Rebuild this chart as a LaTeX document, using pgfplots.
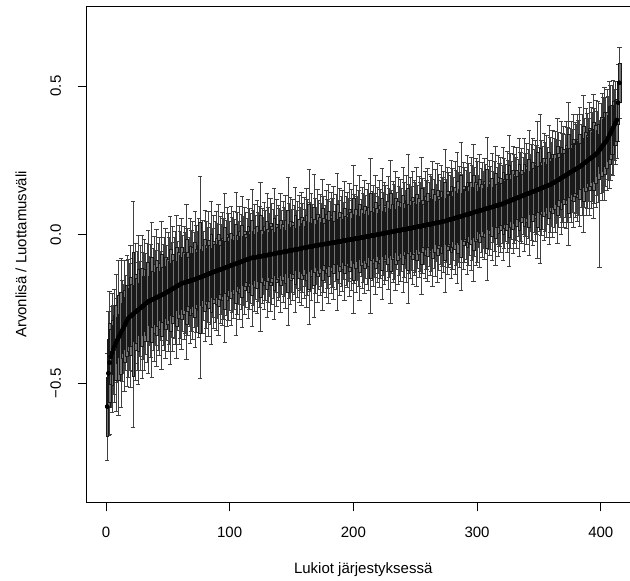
\documentclass[border=0pt]{standalone}
\usepackage{pgfplots}
\pgfplotsset{compat=1.18}
\usepackage{pgfplotstable}
\usepackage{fontspec}
\setmainfont{Liberation Sans}
\newcommand\fs{\fontsize{15bp}{18bp}\selectfont}
\pgfplotstableread[row sep=\\]{
y e\\
-0.578 0.18\\ -0.466 0.21\\ -0.430 0.24\\ -0.410 0.17\\ -0.397 0.20\\ -0.386 0.15\\ -0.375 0.19\\ -0.364 0.23\\ -0.355 0.14\\ -0.347 0.26\\
-0.339 0.13\\ -0.330 0.25\\ -0.322 0.17\\ -0.315 0.15\\ -0.306 0.22\\ -0.297 0.16\\ -0.289 0.22\\ -0.281 0.20\\ -0.277 0.18\\ -0.274 0.24\\
-0.270 0.19\\ -0.267 0.38\\ -0.263 0.17\\ -0.260 0.23\\ -0.256 0.20\\ -0.253 0.25\\ -0.250 0.16\\ -0.246 0.21\\ -0.243 0.24\\ -0.239 0.18\\
-0.236 0.22\\ -0.232 0.17\\ -0.229 0.20\\ -0.225 0.24\\ -0.223 0.15\\ -0.221 0.19\\ -0.219 0.26\\ -0.217 0.17\\ -0.215 0.21\\ -0.213 0.16\\
-0.211 0.23\\ -0.209 0.18\\ -0.207 0.20\\ -0.205 0.15\\ -0.203 0.25\\ -0.201 0.17\\ -0.199 0.19\\ -0.197 0.22\\ -0.194 0.16\\ -0.192 0.20\\
-0.189 0.18\\ -0.187 0.25\\ -0.184 0.16\\ -0.182 0.21\\ -0.179 0.17\\ -0.177 0.19\\ -0.174 0.24\\ -0.172 0.15\\ -0.169 0.20\\ -0.167 0.18\\
-0.164 0.22\\ -0.163 0.16\\ -0.162 0.19\\ -0.160 0.17\\ -0.159 0.26\\ -0.158 0.18\\ -0.157 0.15\\ -0.155 0.21\\ -0.154 0.17\\ -0.153 0.20\\
-0.151 0.16\\ -0.150 0.23\\ -0.148 0.18\\ -0.147 0.16\\ -0.145 0.20\\ -0.143 0.34\\ -0.142 0.17\\ -0.140 0.19\\ -0.139 0.15\\ -0.137 0.22\\
-0.135 0.18\\ -0.134 0.16\\ -0.132 0.21\\ -0.130 0.17\\ -0.129 0.24\\ -0.127 0.15\\ -0.126 0.19\\ -0.124 0.17\\ -0.122 0.20\\ -0.121 0.16\\
-0.119 0.22\\ -0.118 0.18\\ -0.116 0.15\\ -0.115 0.19\\ -0.113 0.17\\ -0.112 0.25\\ -0.110 0.16\\ -0.109 0.20\\ -0.107 0.18\\ -0.105 0.15\\
-0.104 0.20\\ -0.102 0.16\\ -0.101 0.18\\ -0.099 0.15\\ -0.098 0.24\\ -0.096 0.17\\ -0.095 0.14\\ -0.093 0.19\\ -0.092 0.16\\ -0.090 0.22\\
-0.088 0.15\\ -0.087 0.18\\ -0.085 0.16\\ -0.084 0.14\\ -0.082 0.20\\ -0.081 0.17\\ -0.079 0.15\\ -0.078 0.23\\ -0.077 0.16\\ -0.077 0.18\\
-0.076 0.14\\ -0.075 0.19\\ -0.074 0.15\\ -0.073 0.17\\ -0.073 0.25\\ -0.072 0.16\\ -0.071 0.13\\ -0.070 0.18\\ -0.069 0.15\\ -0.069 0.21\\
-0.068 0.16\\ -0.067 0.14\\ -0.066 0.19\\ -0.065 0.17\\ -0.065 0.15\\ -0.064 0.22\\ -0.063 0.13\\ -0.062 0.18\\ -0.061 0.16\\ -0.061 0.15\\
-0.060 0.20\\ -0.059 0.14\\ -0.058 0.17\\ -0.057 0.15\\ -0.057 0.19\\ -0.056 0.13\\ -0.055 0.25\\ -0.054 0.16\\ -0.053 0.18\\ -0.053 0.14\\
-0.052 0.17\\ -0.051 0.15\\ -0.050 0.21\\ -0.049 0.13\\ -0.049 0.16\\ -0.048 0.18\\ -0.047 0.14\\ -0.046 0.19\\ -0.045 0.15\\ -0.044 0.17\\
-0.044 0.13\\ -0.043 0.20\\ -0.042 0.16\\ -0.041 0.26\\ -0.040 0.15\\ -0.039 0.18\\ -0.039 0.14\\ -0.038 0.24\\ -0.037 0.16\\ -0.036 0.13\\
-0.036 0.19\\ -0.035 0.15\\ -0.034 0.17\\ -0.034 0.14\\ -0.033 0.22\\ -0.032 0.16\\ -0.031 0.13\\ -0.031 0.18\\ -0.030 0.15\\ -0.029 0.20\\
-0.028 0.14\\ -0.028 0.17\\ -0.027 0.15\\ -0.026 0.19\\ -0.026 0.13\\ -0.025 0.16\\ -0.024 0.23\\ -0.023 0.14\\ -0.023 0.18\\ -0.022 0.15\\
-0.021 0.17\\ -0.020 0.13\\ -0.020 0.20\\ -0.019 0.15\\ -0.018 0.16\\ -0.017 0.14\\ -0.017 0.19\\ -0.016 0.17\\ -0.015 0.13\\ -0.015 0.25\\
-0.014 0.15\\ -0.013 0.18\\ -0.012 0.14\\ -0.012 0.16\\ -0.011 0.21\\ -0.010 0.13\\ -0.009 0.17\\ -0.009 0.15\\ -0.008 0.19\\ -0.007 0.14\\
-0.006 0.16\\ -0.006 0.18\\ -0.005 0.13\\ -0.004 0.26\\ -0.003 0.15\\ -0.002 0.17\\ -0.002 0.14\\ -0.001 0.20\\ 0.000 0.16\\ 0.001 0.13\\
0.002 0.18\\ 0.002 0.15\\ 0.003 0.22\\ 0.004 0.14\\ 0.005 0.17\\ 0.006 0.16\\ 0.006 0.13\\ 0.007 0.19\\ 0.008 0.15\\ 0.009 0.24\\
0.010 0.14\\ 0.010 0.17\\ 0.011 0.16\\ 0.012 0.20\\ 0.013 0.13\\ 0.014 0.18\\ 0.014 0.15\\ 0.015 0.17\\ 0.016 0.14\\ 0.017 0.21\\
0.018 0.16\\ 0.018 0.13\\ 0.019 0.18\\ 0.020 0.25\\ 0.021 0.15\\ 0.022 0.17\\ 0.022 0.14\\ 0.023 0.19\\ 0.024 0.16\\ 0.025 0.15\\
0.026 0.20\\ 0.027 0.14\\ 0.028 0.17\\ 0.028 0.15\\ 0.029 0.23\\ 0.030 0.16\\ 0.031 0.13\\ 0.032 0.18\\ 0.033 0.15\\ 0.034 0.19\\
0.035 0.14\\ 0.035 0.17\\ 0.036 0.16\\ 0.037 0.21\\ 0.038 0.15\\ 0.039 0.18\\ 0.040 0.13\\ 0.041 0.20\\ 0.042 0.16\\ 0.042 0.14\\
0.043 0.19\\ 0.044 0.15\\ 0.045 0.17\\ 0.046 0.24\\ 0.047 0.14\\ 0.048 0.18\\ 0.050 0.16\\ 0.051 0.15\\ 0.052 0.20\\ 0.053 0.17\\
0.054 0.14\\ 0.056 0.19\\ 0.057 0.16\\ 0.058 0.22\\ 0.059 0.15\\ 0.061 0.17\\ 0.062 0.25\\ 0.063 0.14\\ 0.064 0.18\\ 0.066 0.16\\
0.067 0.15\\ 0.068 0.20\\ 0.069 0.17\\ 0.071 0.14\\ 0.072 0.19\\ 0.073 0.16\\ 0.074 0.23\\ 0.076 0.15\\ 0.077 0.18\\ 0.078 0.17\\
0.079 0.12\\ 0.081 0.19\\ 0.082 0.14\\ 0.083 0.16\\ 0.084 0.13\\ 0.086 0.17\\ 0.087 0.15\\ 0.088 0.24\\ 0.089 0.13\\ 0.091 0.16\\
0.092 0.14\\ 0.093 0.18\\ 0.094 0.12\\ 0.096 0.15\\ 0.097 0.20\\ 0.098 0.13\\ 0.099 0.17\\ 0.101 0.14\\ 0.102 0.16\\ 0.103 0.13\\
0.105 0.19\\ 0.106 0.15\\ 0.108 0.13\\ 0.110 0.17\\ 0.111 0.14\\ 0.113 0.22\\ 0.115 0.16\\ 0.116 0.13\\ 0.118 0.18\\ 0.120 0.15\\
0.121 0.14\\ 0.123 0.17\\ 0.125 0.13\\ 0.126 0.20\\ 0.128 0.15\\ 0.130 0.16\\ 0.131 0.13\\ 0.133 0.19\\ 0.135 0.14\\ 0.137 0.17\\
0.138 0.15\\ 0.140 0.21\\ 0.142 0.13\\ 0.143 0.16\\ 0.145 0.18\\ 0.147 0.14\\ 0.148 0.17\\ 0.150 0.15\\ 0.152 0.23\\ 0.153 0.14\\
0.155 0.25\\ 0.157 0.16\\ 0.158 0.14\\ 0.160 0.18\\ 0.162 0.15\\ 0.163 0.17\\ 0.165 0.13\\ 0.167 0.20\\ 0.168 0.16\\ 0.170 0.14\\
0.173 0.18\\ 0.175 0.15\\ 0.178 0.17\\ 0.180 0.14\\ 0.183 0.21\\ 0.185 0.16\\ 0.188 0.13\\ 0.191 0.19\\ 0.193 0.15\\ 0.196 0.17\\
0.198 0.14\\ 0.201 0.18\\ 0.203 0.16\\ 0.206 0.24\\ 0.209 0.15\\ 0.211 0.17\\ 0.214 0.14\\ 0.216 0.19\\ 0.219 0.16\\ 0.221 0.15\\
0.224 0.18\\ 0.226 0.16\\ 0.229 0.20\\ 0.232 0.14\\ 0.235 0.17\\ 0.239 0.23\\ 0.242 0.15\\ 0.245 0.18\\ 0.248 0.16\\ 0.251 0.14\\
0.255 0.19\\ 0.258 0.17\\ 0.261 0.15\\ 0.264 0.21\\ 0.267 0.16\\ 0.271 0.18\\ 0.274 0.14\\ 0.280 0.17\\ 0.285 0.10\\ 0.291 0.15\\
0.296 0.18\\ 0.302 0.16\\ 0.307 0.19\\ 0.313 0.15\\ 0.318 0.17\\ 0.326 0.14\\ 0.335 0.18\\ 0.343 0.16\\ 0.352 0.15\\ 0.360 0.16\\
0.369 0.12\\ 0.377 0.14\\ 0.386 0.13\\ 0.444 0.13\\ 0.511 0.12\\
}\schools
\pgfplotstableread[row sep=\\]{
i y lo hi\\
399 0.285 0.395 0.10\\
}\asymrow

\begin{document}
\begin{tikzpicture}
\begin{axis}[
  scale only axis, width=553.1bp, height=495.6bp,
  xmin=-15.56, xmax=431.56, ymin=-0.9, ymax=0.767,
  axis line style={line width=0.8bp, black},
  xtick={0,100,200,300,400}, xticklabels={0,100,200,300,400},
  ytick={-0.5,0,0.5}, yticklabels={−0.5,0.0,0.5},
  xtick pos=bottom, ytick pos=left,
  tick align=outside, major tick length=9bp,
  tick style={line width=0.8bp, black},
  xticklabel style={font=\fs, anchor=north, inner sep=0pt, yshift=-15.5bp},
  yticklabel style={font=\fs, rotate=90, anchor=south, inner sep=0pt, yshift=16.5bp},
  xlabel={Lukiot järjestyksessä}, ylabel={Arvonlisä / Luottamusväli},
  every axis x label/.style={at={(rel axis cs:0.5,0)}, anchor=center, yshift=-67bp, font=\fs},
  every axis y label/.style={at={(rel axis cs:0,0.5)}, rotate=90, anchor=south, inner sep=0pt, yshift=60bp, font=\fs},
  clip=true,
  whisker/.style={only marks, mark=none,
    error bars/.cd, y dir=both, y explicit,
    draw error bar/.code 2 args={\draw[line width=0.5bp, black!75]
      ##1 -- ##2 ##1 ++(-2.2bp,0) -- ++(4.4bp,0) ##2 ++(-2.2bp,0) -- ++(4.4bp,0);}},
  box/.style={only marks, mark=none,
    error bars/.cd, y dir=both, y explicit,
    draw error bar/.code 2 args={\path ##1 coordinate (lo) ##2 coordinate (hi);
      \draw[line width=0.25bp, black!90, fill=black!55] ([xshift=-1.4bp]lo) rectangle ([xshift=1.4bp]hi);}},
]
\coordinate (SW) at (rel axis cs:0,0);
% whiskers (confidence intervals)
\addplot[whisker] table[x expr=\coordindex+1, y=y, y error=e] {\schools};
\addplot[whisker] table[x=i, y=y, y error minus=lo, y error plus=hi] {\asymrow};
% boxes
\addplot[box] table[x expr=\coordindex+1, y=y, y error expr=0.55*\thisrow{e}] {\schools};
% estimates
\addplot[only marks, mark=*, mark size=1.5bp, black] table[x expr=\coordindex+1, y=y] {\schools};
\end{axis}
\pgfresetboundingbox
\path ([shift={(-86.7bp,-78.7bp)}]SW) rectangle ([shift={(543.3bp,502.3bp)}]SW);
\end{tikzpicture}
\end{document}
